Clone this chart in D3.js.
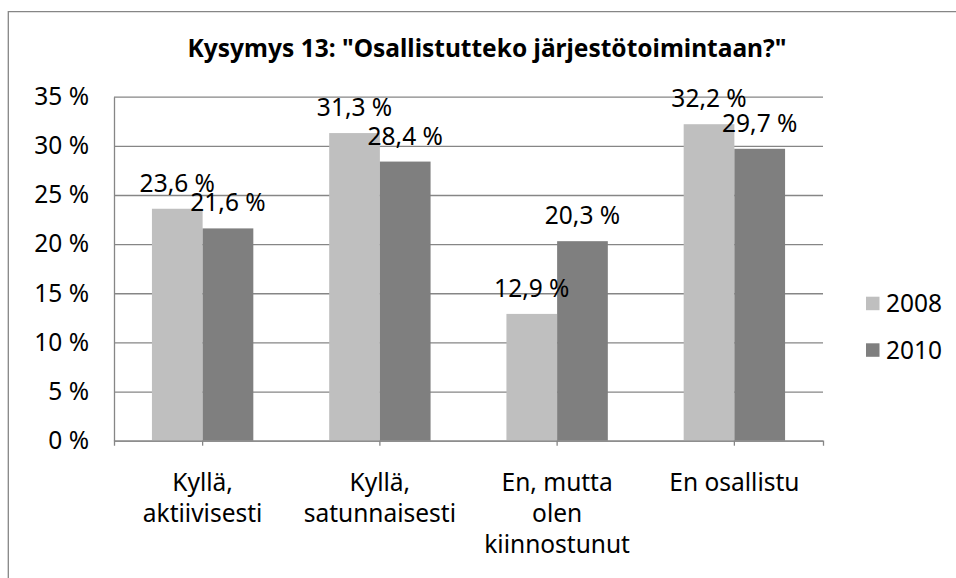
<!DOCTYPE html>
<html>
<head>
<meta charset="utf-8">
<script src="https://cdn.jsdelivr.net/npm/d3@7"></script>
<style>
  html, body { margin: 0; padding: 0; background: #fff; }
  svg { display: block; font-family: "Noto Sans", "DejaVu Sans", sans-serif; }
</style>
</head>
<body>
<svg width="956" height="578"></svg>
<script>
const categories = [
  "Kyllä, aktiivisesti",
  "Kyllä, satunnaisesti",
  "En, mutta olen kiinnostunut",
  "En osallistu"
];
const seriesNames = ["2008", "2010"];
const values2008 = [23.6, 31.3, 12.9, 32.2];
const values2010 = [21.6, 28.4, 20.3, 29.7];
const yTicks = [0, 5, 10, 15, 20, 25, 30, 35];
const titleText = 'Kysymys 13: "Osallistutteko järjestötoimintaan?"';

const colors = { "2008": "#bfbfbf", "2010": "#7f7f7f" };
const lineColor = "#868686";
const fontSize = 24.5;

const margin = { top: 96.7, left: 114, right: 133, bottom: 137.3 };
const svg = d3.select("svg");
const W = +svg.attr("width");
const H = +svg.attr("height");
const plotW = W - margin.left - margin.right;
const plotH = H - margin.top - margin.bottom;

const rows = categories.map((c, i) => ({
  category: c,
  values: [
    { key: "2008", value: values2008[i] },
    { key: "2010", value: values2010[i] }
  ]
}));

const fi = d3.formatLocale({ decimal: ",", thousands: " ", grouping: [3], currency: ["", " €"] });
const fmt1 = fi.format(".1f");

// outer chart frame (cut off at right and bottom)
svg.append("path")
  .attr("d", `M8.3,${H}V11.7H${W}`)
  .attr("fill", "none")
  .attr("stroke", lineColor)
  .attr("stroke-width", 1.3);

// title
svg.append("text")
  .attr("x", 487)
  .attr("y", 57)
  .attr("text-anchor", "middle")
  .attr("font-size", 24.5)
  .attr("font-weight", "bold")
  .attr("fill", "#000")
  .text(titleText);

const g = svg.append("g").attr("transform", `translate(${margin.left},${margin.top})`);

const x0 = d3.scaleBand()
  .domain(categories)
  .range([0, plotW])
  .paddingInner(0.428)
  .paddingOuter(0.214);

const x1 = d3.scaleBand()
  .domain(seriesNames)
  .range([0, x0.bandwidth()]);

const y = d3.scaleLinear().domain([0, 35]).range([plotH, 0]);

// y axis + gridlines
const yAxis = d3.axisLeft(y)
  .tickValues(yTicks)
  .tickSize(-plotW)
  .tickSizeOuter(0)
  .tickPadding(25)
  .tickFormat(d => d + " %");

const yg = g.append("g").attr("class", "y-axis").call(yAxis);
yg.attr("font-family", null);
yg.select(".domain").attr("stroke", lineColor).attr("stroke-width", 1.3);
yg.selectAll(".tick line").attr("stroke", lineColor).attr("stroke-width", 1.3);
yg.selectAll(".tick text")
  .attr("font-size", fontSize)
  .attr("fill", "#000");

// bars
const groups = g.selectAll("g.group")
  .data(rows)
  .join("g")
  .attr("class", "group")
  .attr("transform", d => `translate(${x0(d.category)},0)`);

groups.selectAll("rect")
  .data(d => d.values)
  .join("rect")
  .attr("x", d => x1(d.key))
  .attr("y", d => y(d.value))
  .attr("width", x1.bandwidth())
  .attr("height", d => plotH - y(d.value))
  .attr("fill", d => colors[d.key]);

// x axis
const xAxis = d3.axisBottom(x0).tickSize(5).tickSizeOuter(5).tickPadding(0);
const xg = g.append("g")
  .attr("class", "x-axis")
  .attr("transform", `translate(0,${plotH})`)
  .call(xAxis);
xg.attr("font-family", null);
xg.select(".domain").attr("stroke", lineColor).attr("stroke-width", 1.3);
xg.selectAll(".tick line").attr("stroke", lineColor).attr("stroke-width", 1.3);
xg.selectAll(".tick text")
  .attr("font-size", fontSize)
  .attr("fill", "#000")
  .attr("y", 50)
  .attr("dy", 0)
  .call(wrap, 150);

// data labels
groups.selectAll("text.label")
  .data(d => d.values)
  .join("text")
  .attr("class", "label")
  .attr("x", d => x1(d.key) + x1.bandwidth() / 2)
  .attr("y", d => y(d.value) - 17)
  .attr("text-anchor", "middle")
  .attr("font-size", fontSize)
  .attr("fill", "#000")
  .text(d => fmt1(d.value) + " %");

// legend
const legend = svg.append("g").attr("transform", "translate(866,296.7)");
const items = legend.selectAll("g")
  .data(seriesNames)
  .join("g")
  .attr("transform", (d, i) => `translate(0,${i * 46.6})`);
items.append("rect")
  .attr("width", 13.5)
  .attr("height", 13.5)
  .attr("fill", d => colors[d]);
items.append("text")
  .attr("x", 20)
  .attr("y", 15.6)
  .attr("font-size", fontSize)
  .attr("fill", "#000")
  .text(d => d);

// wrap tick labels onto several lines
function wrap(text, width) {
  text.each(function() {
    const t = d3.select(this);
    const words = t.text().split(/\s+/);
    const x = t.attr("x") || 0;
    const y0 = t.attr("y");
    const lineH = 31;
    let line = [];
    let lineNo = 0;
    t.text(null);
    let tspan = t.append("tspan").attr("x", x).attr("y", y0);
    words.forEach(w => {
      line.push(w);
      tspan.text(line.join(" "));
      if (line.length > 1 && tspan.node().getComputedTextLength() > width) {
        line.pop();
        tspan.text(line.join(" "));
        line = [w];
        lineNo++;
        tspan = t.append("tspan")
          .attr("x", x)
          .attr("y", +y0 + lineNo * lineH)
          .text(w);
      }
    });
  });
}
</script>
</body>
</html>
